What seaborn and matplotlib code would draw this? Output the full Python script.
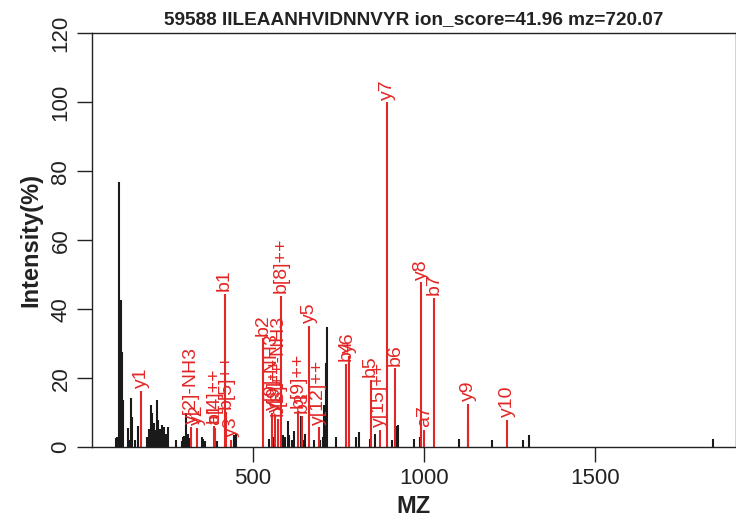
import matplotlib
matplotlib.use("Agg")
import matplotlib.pyplot as plt
import seaborn as sns
import numpy as np
import pandas as pd

title = "59588 IILEAANHVIDNNVYR ion_score=41.96 mz=720.07"

# unannotated peaks (black)
peak_mz = [101.1, 104.9, 110.8, 114.8, 118.6, 120.7, 137.1, 141.1, 144.9, 147.9,
           156.6, 164.5, 190.8, 196.7, 202.5, 206.3, 211.3, 215.1, 220.0, 223.8,
           228.8, 232.6, 236.4, 242.3, 246.3, 253.1, 275.6, 293.1, 297.8, 300.7,
           305.7, 310.6, 315.3, 351.5, 356.2, 361.2, 395.4, 446.8, 451.8, 549.1,
           560.8, 589.1, 595.0, 602.9, 607.5, 614.5, 621.3, 640.8, 646.7, 653.4,
           680.6, 697.2, 705.1, 709.8, 713.9, 717.7, 744.0, 782.9, 802.5, 810.3,
           843.4, 858.0, 906.8, 921.4, 925.2, 969.9, 989.5, 1101.4, 1127.7, 1199.0,
           1289.6, 1307.1, 1843.7]
peak_int = [2.6, 2.9, 76.8, 42.7, 27.7, 13.7, 5.5, 2.1, 14.2, 8.9,
            2.0, 6.2, 3.0, 5.4, 12.3, 9.8, 6.9, 4.9, 13.7, 7.9,
            5.3, 2.9, 6.5, 5.9, 4.0, 5.9, 2.0, 1.8, 3.0, 3.4,
            9.8, 4.0, 2.6, 3.0, 2.3, 1.8, 1.8, 3.7, 4.0, 2.4,
            3.0, 3.5, 3.0, 7.7, 3.5, 2.0, 4.8, 9.0, 2.0, 4.0,
            2.2, 2.0, 3.0, 12.2, 24.3, 34.8, 2.9, 2.0, 3.0, 4.4,
            2.5, 3.9, 2.0, 6.2, 6.5, 2.3, 3.0, 2.3, 7.0, 2.2,
            2.0, 3.5, 2.4]

# annotated fragment ions (red)
ion_labels = ["y1", "y[2]-NH3", "y2", "b[4]++", "a1", "b1", "b[5]++", "y3", "b2",
              "y[9]-NH3", "y[9]++", "b[8]++-NH3", "b[8]++", "b[9]++", "b3", "y5",
              "y[12]++", "b4", "y6", "b5", "y[15]++", "y7", "b6", "y8", "a7", "b7",
              "y9", "y10"]
ion_mz = [175.119, 321.156, 338.182, 387.258, 390.303, 418.298, 422.777, 437.251, 531.383,
          556.78, 565.29, 575.33, 583.846, 633.38, 644.467, 665.337,
          693.35, 773.509, 780.364, 844.546, 870.955, 893.448, 915.583, 992.516, 1001.631, 1029.626,
          1129.575, 1243.618]
ion_int = [16.4, 6.0, 5.7, 6.2, 5.6, 44.4, 10.3, 2.1, 31.6,
           9.9, 9.5, 8.2, 43.9, 10.6, 9.0, 35.2,
           5.8, 24.2, 26.5, 19.5, 5.0, 100.0, 22.9, 47.8, 5.0, 43.2,
           12.5, 7.9]

peaks = pd.DataFrame({"mz": peak_mz, "intensity": peak_int})
ions = pd.DataFrame({"label": ion_labels, "mz": ion_mz, "intensity": ion_int})

RED = "#e32626"
BLACK = "#1a1a1a"

sns.set_theme(style="ticks")
plt.rcParams['font.family'] = ['Liberation Sans', 'DejaVu Sans']

W, H = 736, 530
fig = plt.figure(figsize=(W / 100, H / 100), dpi=100)
left, right, top, bottom = 92.3, 735.5, 33.3, 447.3
ax = fig.add_axes([left / W, (H - bottom) / H, (right - left) / W, (bottom - top) / H])

ax.vlines(peaks["mz"], 0, peaks["intensity"], colors=BLACK, linewidth=1.5)
ax.vlines(ions["mz"], 0, ions["intensity"], colors=RED, linewidth=1.5)
for lab, mz, h in zip(ions["label"], ions["mz"], ions["intensity"]):
    ax.annotate(lab, (mz, h), xytext=(0, 2), textcoords="offset points",
                rotation=90, ha="center", va="bottom", fontsize=14, color=RED)

ax.set_xlim(31.9, 1910)
ax.set_ylim(0, 120)
ax.set_xticks([500, 1000, 1500])
ax.set_yticks([0, 20, 40, 60, 80, 100, 120])
ax.tick_params(direction="out", length=11, width=1.0, labelsize=16, pad=4,
               color="#222222", labelcolor="#222222")
ax.tick_params(axis="y", labelrotation=90)
for t in ax.get_yticklabels():
    t.set_verticalalignment("center")

for s in ax.spines.values():
    s.set_visible(True)
    s.set_linewidth(1.0)
    s.set_color("#222222")

ax.set_xlabel("MZ", fontsize=17, fontweight="bold", color="#222222")
ax.set_ylabel("Intensity(%)", fontsize=17, fontweight="bold", color="#222222")
ax.xaxis.set_label_coords(0.5, -0.116)
ax.yaxis.set_label_coords(-0.078, 0.5)
ax.set_title(title, fontsize=13.7, fontweight="bold", pad=6.7, color="#222222")

fig.savefig("out.png", dpi=100)
